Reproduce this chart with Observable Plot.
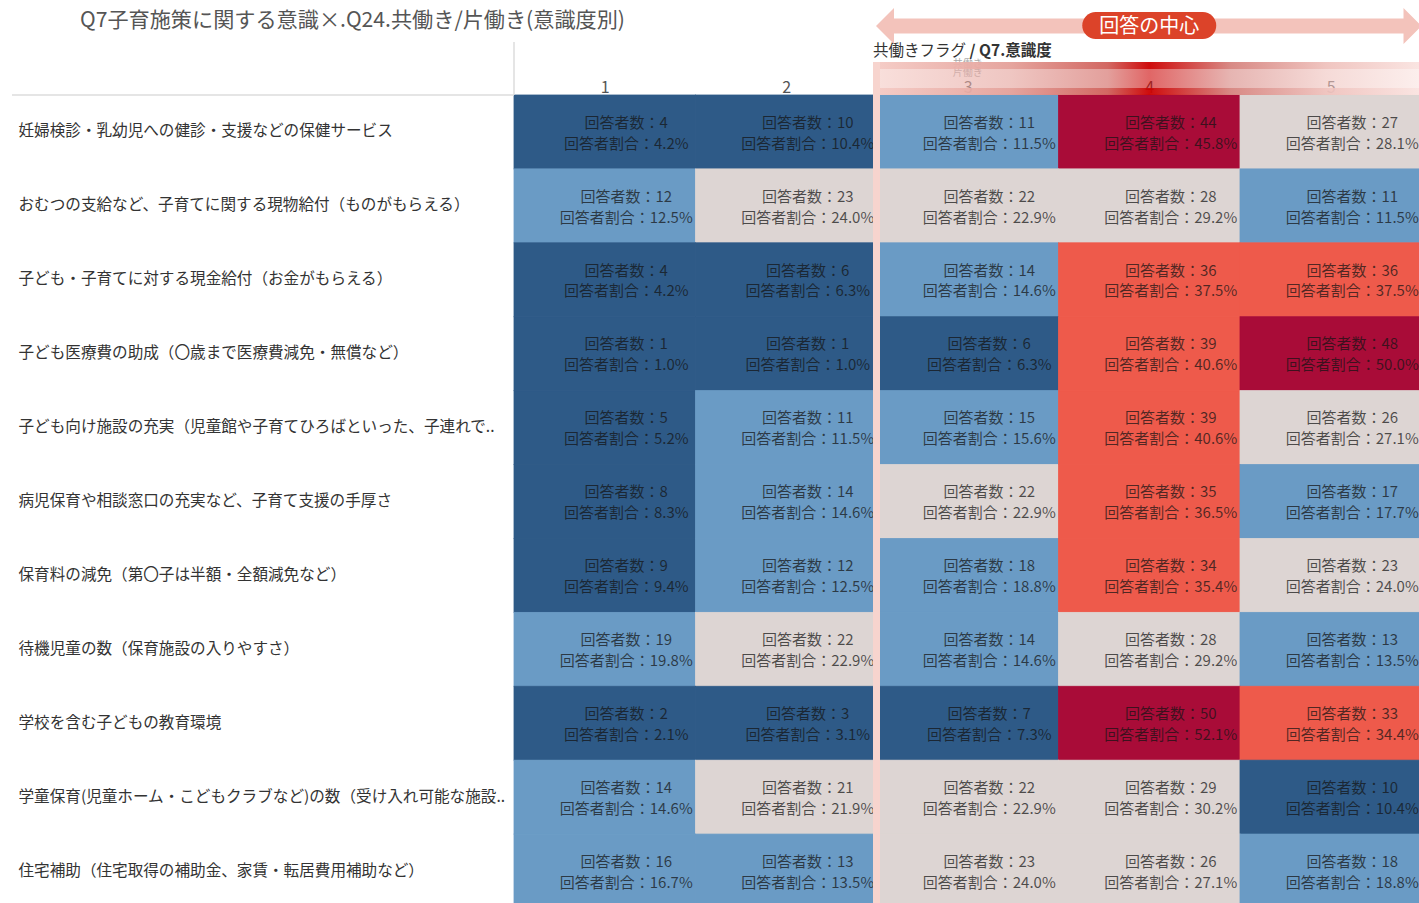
<!DOCTYPE html>
<html>
<head>
<meta charset="utf-8">
<script src="https://cdn.jsdelivr.net/npm/d3@7"></script>
<script src="https://cdn.jsdelivr.net/npm/@observablehq/plot@0.6"></script>
<style>
  html, body { margin: 0; padding: 0; background: #fff; overflow: hidden; }
  #chart svg { display: block; }
</style>
</head>
<body>
<div id="chart"></div>
<script>
// ---------- data ----------
const title = "Q7子育施策に関する意識×.Q24.共働き/片働き(意識度別)";
const headerTitle = "共働きフラグ";
const headerTitle2 = " / Q7.意識度";
const ghostLabels = ["共働き", "片働き"];
const centerLabel = "回答の中心";
const levels = ["1", "2", "3", "4", "5"];
const centerLevels = ["3", "4", "5"];
const items = [
  "妊婦検診・乳幼児への健診・支援などの保健サービス",
  "おむつの支給など、子育てに関する現物給付（ものがもらえる）",
  "子ども・子育てに対する現金給付（お金がもらえる）",
  "子ども医療費の助成（〇歳まで医療費減免・無償など）",
  "子ども向け施設の充実（児童館や子育てひろばといった、子連れで..",
  "病児保育や相談窓口の充実など、子育て支援の手厚さ",
  "保育料の減免（第〇子は半額・全額減免など）",
  "待機児童の数（保育施設の入りやすさ）",
  "学校を含む子どもの教育環境",
  "学童保育(児童ホーム・こどもクラブなど)の数（受け入れ可能な施設..",
  "住宅補助（住宅取得の補助金、家賃・転居費用補助など）"
];
const counts = [
  [4, 10, 11, 44, 27],
  [12, 23, 22, 28, 11],
  [4, 6, 14, 36, 36],
  [1, 1, 6, 39, 48],
  [5, 11, 15, 39, 26],
  [8, 14, 22, 35, 17],
  [9, 12, 18, 34, 23],
  [19, 22, 14, 28, 13],
  [2, 3, 7, 50, 33],
  [14, 21, 22, 29, 10],
  [16, 13, 23, 26, 18]
];
const shares = [
  [4.2, 10.4, 11.5, 45.8, 28.1],
  [12.5, 24.0, 22.9, 29.2, 11.5],
  [4.2, 6.3, 14.6, 37.5, 37.5],
  [1.0, 1.0, 6.3, 40.6, 50.0],
  [5.2, 11.5, 15.6, 40.6, 27.1],
  [8.3, 14.6, 22.9, 36.5, 17.7],
  [9.4, 12.5, 18.8, 35.4, 24.0],
  [19.8, 22.9, 14.6, 29.2, 13.5],
  [2.1, 3.1, 7.3, 52.1, 34.4],
  [14.6, 21.9, 22.9, 30.2, 10.4],
  [16.7, 13.5, 24.0, 27.1, 18.8]
];
const colorThresholds = [11, 21, 32, 43];
const colorRange = ["#2e5a87", "#6a9bc5", "#ddd5d3", "#ee5a4b", "#a90c38"];

// ---------- table ----------
const cells = [];
items.forEach((item, i) => levels.forEach((level, j) => {
  cells.push({item, level, count: counts[i][j], share: shares[i][j]});
}));

const FONT = "'Noto Sans CJK JP', 'Noto Sans', sans-serif";
const W = 1419, H = 903;
const LEFT = 514, TOP = 95;

const plot = Plot.plot({
  width: W,
  height: H,
  marginLeft: LEFT,
  marginTop: TOP,
  marginRight: 0,
  marginBottom: 0,
  style: {fontFamily: FONT, background: "#fff", overflow: "hidden"},
  x: {domain: levels, range: [LEFT, 1421.5], padding: 0, round: false},
  y: {domain: items, range: [TOP, 908], padding: 0, round: false},
  color: {type: "threshold", domain: colorThresholds, range: colorRange},
  marks: [
    Plot.cell(cells, {x: "level", y: "item", fill: "share", stroke: "share", strokeWidth: 0.8, inset: 0}),
    Plot.text(cells, {
      x: "level", y: "item",
      text: d => `回答者数：${d.count}\n回答者割合：${d.share.toFixed(1)}%`,
      lineHeight: 1.4, fontSize: 15, dx: 21, dy: -1,
      fill: "#141414", fillOpacity: 0.72
    }),
    Plot.text(items, {
      y: d => d, text: d => d, frameAnchor: "left", textAnchor: "start",
      dx: 18 - LEFT, dy: -1, fontSize: 15.6, fill: "#333"
    }),
    Plot.axisX({anchor: "top", tickSize: 0, tickPadding: 3, fontSize: 16, fill: "#555", label: null}),
    Plot.axisY({ticks: [], label: null})
  ]
});

document.getElementById("chart").appendChild(plot);

// ---------- annotations ----------
const svg = d3.select(plot);
const xs = plot.scale("x");
const bw = xs.bandwidth;
const xa = xs.apply(centerLevels[0]) - 4;
const xb = xs.apply(centerLevels[centerLevels.length - 1]) + bw;
const xc = xs.apply("4") + bw / 2;
const stopC = (xc - xa) / (xb - xa);

const defs = svg.insert("defs", ":first-child");
const grad = defs.append("linearGradient")
  .attr("id", "centerGrad").attr("gradientUnits", "userSpaceOnUse")
  .attr("x1", xa).attr("x2", xb).attr("y1", 0).attr("y2", 0);
[[0, "#f5cbc5"], [stopC * 0.5, "#e4a099"], [stopC * 0.85, "#d0605a"], [stopC, "#cc0000"], [stopC + (1 - stopC) * 0.3, "#d6847f"], [stopC + (1 - stopC) * 0.65, "#efc2bd"], [1, "#fae4e1"]]
  .forEach(([o, c]) => grad.append("stop").attr("offset", o).attr("stop-color", c));

// title
svg.append("text").attr("x", 80).attr("y", 27).attr("text-anchor", "start")
  .attr("font-size", 21).attr("fill", "#555").attr("font-family", FONT)
  .attr("textLength", 545).attr("lengthAdjust", "spacingAndGlyphs")
  .text(title);

// light separator lines
svg.append("line").attr("x1", LEFT).attr("x2", LEFT).attr("y1", 42).attr("y2", TOP)
  .attr("stroke", "#dcdcdc").attr("stroke-width", 1.5);
svg.append("line").attr("x1", 12).attr("x2", LEFT).attr("y1", TOP).attr("y2", TOP)
  .attr("stroke", "#dcdcdc").attr("stroke-width", 1.5);

// ghost header labels (faint, partly hidden by the band)
ghostLabels.forEach((t, i) => {
  svg.append("text").attr("x", xs.apply("3") + bw / 2).attr("y", 67 + i * 9)
    .attr("text-anchor", "middle").attr("font-size", 10).attr("fill", "#aaa")
    .attr("font-family", FONT).text(t);
});

// gradient band over header 3..5
svg.append("rect").attr("x", xa).attr("y", 69).attr("width", xb - xa).attr("height", 19)
  .attr("fill", "url(#centerGrad)").attr("opacity", 0.6);
svg.append("rect").attr("x", xa).attr("y", 62).attr("width", xb - xa).attr("height", 7)
  .attr("fill", "url(#centerGrad)").attr("opacity", 0.95);
svg.append("rect").attr("x", xa).attr("y", 88).attr("width", xb - xa).attr("height", 7)
  .attr("fill", "url(#centerGrad)").attr("opacity", 0.95);

// pink frame edge
svg.append("rect").attr("x", xa).attr("y", 62).attr("width", 7).attr("height", H - 62)
  .attr("fill", "#f7d4ce");

// header caption
const cap = svg.append("text").attr("x", xa).attr("y", 56).attr("text-anchor", "start")
  .attr("font-size", 15.5).attr("fill", "#333").attr("font-family", FONT);
cap.append("tspan").text(headerTitle);
cap.append("tspan").attr("font-weight", 600).text(headerTitle2);

// double arrow
const ax0 = xa + 3, ax1 = xb, ay = 26, sh = 7.5, hh = 18, hl = 18;
svg.append("path")
  .attr("d", `M${ax0},${ay} L${ax0 + hl},${ay - hh} L${ax0 + hl},${ay - sh} L${ax1 - hl},${ay - sh} L${ax1 - hl},${ay - hh} L${ax1},${ay} L${ax1 - hl},${ay + hh} L${ax1 - hl},${ay + sh} L${ax0 + hl},${ay + sh} L${ax0 + hl},${ay + hh} Z`)
  .attr("fill", "#f3c3bb");

// pill label
svg.append("rect").attr("x", xc - 67).attr("y", 12).attr("width", 134).attr("height", 27)
  .attr("rx", 13.5).attr("fill", "#dc4329");
svg.append("text").attr("x", xc).attr("y", 26).attr("dy", "0.35em")
  .attr("text-anchor", "middle").attr("font-size", 20).attr("fill", "#fff")
  .attr("font-family", FONT).text(centerLabel);
</script>
</body>
</html>
